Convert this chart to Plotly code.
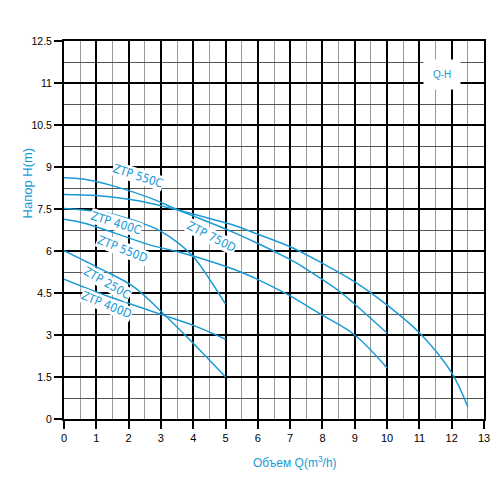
import plotly.graph_objects as go

# Q-H curves (Q in m3/h, H in m)
q_550c = [0, 0.6, 1.6, 2.7, 3.5, 4.2, 5.3, 7.15, 7.5, 8.5, 9, 10]
h_550c = [8.62, 8.57, 8.3, 7.88, 7.48, 7.16, 6.64, 5.6, 5.35, 4.58, 4.1, 3.07]

q_750d = [0, 1, 2, 2.7, 3.5, 4.7, 5.3, 6, 7, 8, 9, 10, 11, 12, 12.5]
h_750d = [8.02, 7.98, 7.85, 7.7, 7.47, 7.1, 6.9, 6.6, 6.15, 5.56, 4.9, 4.07, 3.08, 1.65, 0.43]

q_400c = [0, 1, 1.6, 2.7, 3.0, 3.5, 4.0, 4.5, 5]
h_400c = [7.52, 7.42, 7.29, 6.87, 6.7, 6.32, 5.8, 5.0, 4.1]

q_550d = [0, 0.6, 1.6, 2.7, 3.44, 3.9, 4.2, 5.45, 6.9, 7.9, 9, 10]
h_550d = [7.13, 7.0, 6.63, 6.2, 6.0, 5.85, 5.75, 5.26, 4.46, 3.77, 3.0, 1.82]

q_250c = [0, 1.1, 2.15, 3.07, 3.9, 5]
h_250c = [6.01, 5.38, 4.73, 3.77, 2.82, 1.5]

q_400d = [0, 1.1, 2.15, 3.07, 4.1, 5]
h_400d = [4.99, 4.49, 4.07, 3.71, 3.3, 2.85]

y_tickvals = [0, 1.5, 3, 4.5, 6, 7.5, 9, 10.5, 12, 13.5]
y_ticktext = ['0', '1.5', '3', '4.5', '6', '7.5', '9', '10.5', '11', '12.5']

blue = '#1a9ad6'
lbl_font = dict(family='Liberation Sans Narrow, DejaVu Sans Condensed, Liberation Sans', size=12, color=blue)

fig = go.Figure()
for q, h in [(q_550c, h_550c), (q_750d, h_750d), (q_400c, h_400c),
             (q_550d, h_550d), (q_250c, h_250c), (q_400d, h_400d)]:
    fig.add_trace(go.Scatter(x=q, y=h, mode='lines', line=dict(color=blue, width=1.5, shape='spline'),
                             showlegend=False, hoverinfo='skip'))

# curve labels
labels = [('ZTP 550C', 2.29, 8.68, 18), ('ZTP 400C', 1.61, 7.0, 17), ('ZTP 550D', 1.8, 6.07, 22),
          ('ZTP 750D', 4.58, 6.5, 27), ('ZTP 250C', 1.33, 4.86, 30), ('ZTP 400D', 1.33, 4.07, 22)]
for txt, x, y, ang in labels:
    fig.add_annotation(x=x, y=y, text=txt, showarrow=False, textangle=ang, font=lbl_font,
                       bgcolor='white', borderpad=0)

fig.add_annotation(x=11.7, y=12.29, text='Q-H', showarrow=False, bgcolor='white', borderpad=9,
                   font=dict(family='Liberation Sans', size=10, color=blue))
fig.add_annotation(xref='paper', yref='paper', x=-0.11, y=0.624, text='Напор H(m)', textangle=-90,
                   showarrow=False, font=dict(family='Liberation Sans', size=13, color=blue))
fig.add_annotation(xref='paper', yref='paper', x=0.55, y=-0.14, text='Объем Q(m<sup>3</sup>/h)',
                   showarrow=False, font=dict(family='Liberation Sans', size=12, color=blue))

# page body adds 8px, margins compensate
fig.update_layout(
    width=500, height=500,
    margin=dict(l=56, r=24, t=33, b=89),
    plot_bgcolor='white', paper_bgcolor='white',
    xaxis=dict(
        range=[0, 13], tickmode='linear', tick0=0, dtick=1, automargin=False,
        showgrid=True, gridcolor='black', gridwidth=1.5,
        showline=True, linecolor='black', linewidth=2, mirror=True,
        ticks='outside', ticklen=8, tickwidth=2, tickcolor='black',
        tickfont=dict(family='Liberation Sans', size=11, color='black'),
        minor=dict(tickmode='linear', tick0=0, dtick=0.5, showgrid=True, gridcolor='#9a9a9a', gridwidth=1.2),
        zeroline=False,
    ),
    yaxis=dict(
        range=[0, 13.5], tickmode='array', tickvals=y_tickvals, ticktext=y_ticktext, automargin=False,
        showgrid=True, gridcolor='black', gridwidth=1.5,
        showline=True, linecolor='black', linewidth=2, mirror=True,
        ticks='outside', ticklen=8, tickwidth=2, tickcolor='black',
        tickfont=dict(family='Liberation Sans', size=10.5, color='black'),
        minor=dict(tickmode='linear', tick0=0, dtick=0.75, showgrid=True, gridcolor='#555555', gridwidth=1),
        zeroline=False,
    ),
)

fig.write_html('out.html')
